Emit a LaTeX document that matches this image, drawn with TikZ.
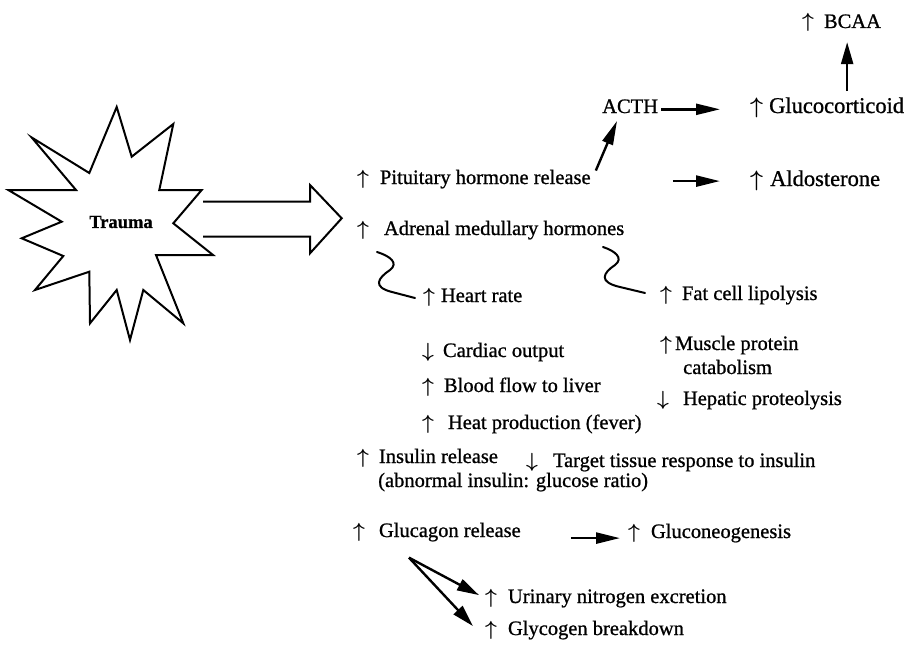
\documentclass[tikz,border=0pt]{standalone}
\usepackage{fix-cm}
\usepackage{fontspec}
\setmainfont{Liberation Serif}[FakeBold=0.9]
\usetikzlibrary{arrows.meta}
\newcommand\UA{{\boldmath$\uparrow$}}
\newcommand\DA{{\boldmath$\downarrow$}}
\begin{document}
\begin{tikzpicture}[x=1pt,y=-1pt,
  lbl/.style={anchor=base west, inner sep=0pt, font=\fontsize{20.5}{24}\selectfont},
  big/.style={lbl, font=\fontsize{22.5}{26}\selectfont},
  fat/.style={line width=2.4pt, -{Triangle[length=24pt,width=11pt]}},
  fatv/.style={line width=2.4pt, -{Triangle[length=22pt,width=12pt]}},
  outline/.style={line width=2pt, line join=miter},
  squig/.style={line width=2pt, line cap=round}]
\useasboundingbox[fill=white] (0,0) rectangle (912,661);

% star
\draw[outline] (31.7,137.5) -- (89.3,173) -- (116.7,107) -- (131.7,156.7) -- (173.3,124)
  -- (159.3,190) -- (201.7,190) -- (173.3,223.3) -- (213,255) -- (156,255)
  -- (183.3,323.3) -- (143.3,290) -- (130,340) -- (116.7,290) -- (90,323.3)
  -- (89.3,271.7) -- (35,290) -- (63.3,256) -- (21.7,238.3) -- (61.7,221.7)
  -- (8.3,190) -- (76,190) -- cycle;
\node[font=\bfseries\fontsize{18.5}{22}\selectfont, inner sep=0pt] (trauma) at (121,222) {Trauma};

% big hollow arrow
\draw[outline] (203,201.7) -- (310,201.7) -- (310,185) -- (341.7,218.3) -- (310,253.3) -- (310,236.7) -- (203,236.7);

% labels
\node[lbl] (bcaa) at (802,28) {\UA\hspace{10pt}BCAA};
\node[lbl] (acth) at (602,113) {ACTH};
\node[big] (gluco) at (750,113) {\UA\hspace{6pt}Glucocorticoid};
\node[lbl] (pit) at (357,184) {\UA\hspace{11pt}Pituitary hormone release};
\node[big] (aldo) at (750,186) {\UA\hspace{7pt}Aldosterone};
\node[lbl] (adr) at (357,235) {\UA\hspace{15pt}Adrenal medullary hormones};
\node[lbl] (heart) at (423,302) {\UA\hspace{6pt}Heart rate};
\node[lbl] (fat) at (660,300) {\UA\hspace{10pt}Fat cell lipolysis};
\node[lbl] (cardiac) at (422,357) {\DA\hspace{9pt}Cardiac output};
\node[lbl] (muscle) at (660,350) {\UA\hspace{3pt}Muscle protein};
\node[lbl] (cat) at (683,374) {catabolism};
\node[lbl] (blood) at (422,392) {\UA\hspace{10pt}Blood flow to liver};
\node[lbl] (hep) at (657,405) {\DA\hspace{14pt}Hepatic proteolysis};
\node[lbl] (heat) at (422,429) {\UA\hspace{14pt}Heat production (fever)};
\node[lbl] (ins) at (357,463) {\UA\hspace{10pt}Insulin release};
\node[lbl] (abn) at (378,487) {(abnormal insulin: glucose ratio)};
\node[lbl] (target) at (526,467) {\DA\hspace{15pt}Target tissue response to insulin};
\node[lbl] (glucagon) at (353,537) {\UA\hspace{14pt}Glucagon release};
\node[lbl] (gneo) at (628,538) {\UA\hspace{11pt}Gluconeogenesis};
\node[lbl] (urin) at (485,603) {\UA\hspace{11pt}Urinary nitrogen excretion};
\node[lbl] (glyc) at (485,635) {\UA\hspace{11pt}Glycogen breakdown};

% filled arrows
\draw[fat, shorten >=30pt] ([shift={(3pt,-3pt)}]acth.east) -- ([yshift=-3pt]acth.east -| gluco.west);
\draw[fat, shorten <=82pt, shorten >=30pt] ([yshift=-2pt]pit.east) -- ([yshift=-2pt]pit.east -| aldo.west);
\coordinate (actip) at (617,121);
\draw[fat] ([shift={(5pt,-1pt)}]pit.north east) -- (actip);
\draw[fatv, shorten <=6pt, shorten >=10pt] ([xshift=20pt]gluco.north) -- ([xshift=20pt]gluco.north |- bcaa.south);
\draw[fat, shorten <=50pt, shorten >=8pt] ([yshift=-6pt]glucagon.east) -- ([yshift=-6pt]glucagon.east -| gneo.west);
\coordinate (v) at ([shift={(-28pt,-16pt)}]glucagon.south);
\draw[fatv] (v) -- ([shift={(-6pt,3pt)}]urin.west);
\draw[fatv] (v) -- ([shift={(-12pt,4pt)}]glyc.west);

% squiggles
\draw[squig] (377,252) .. controls (390,256) and (399,263) .. (390,270)
  .. controls (378,278) and (372,287) .. (392,292) -- (415,298);
\draw[squig] (603,247) .. controls (615,251) and (624,258) .. (615,265)
  .. controls (603,273) and (598,282) .. (620,287) -- (645,293);
\end{tikzpicture}
\end{document}
